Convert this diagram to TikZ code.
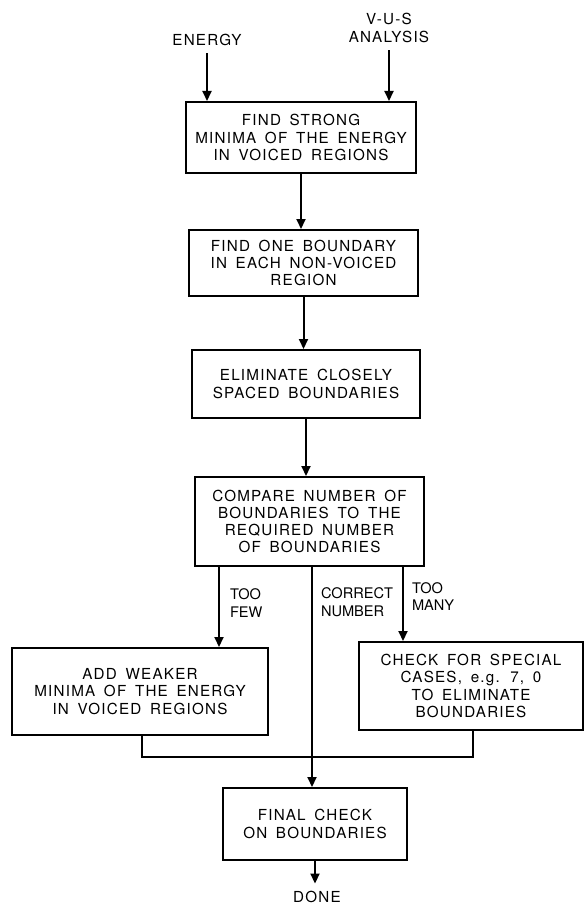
\documentclass[tikz,border=0pt]{standalone}
\usepackage{fontspec}
\setmainfont{TeX Gyre Heros}[LetterSpace=8,WordSpace=1.6]
\newfontfamily\branchfont{TeX Gyre Heros}
\usetikzlibrary{arrows.meta,positioning}
\tikzset{>={Triangle[length=5pt,width=4.5pt]}, % solid heads as in the chart
every node/.style={font=\fontsize{7.6}{8.6}\selectfont}, % lettering of the chart
box/.style={draw, rectangle, align=center, inner sep=2pt}, % one step of the procedure
lbl/.style={align=left, inner sep=1pt, font=\branchfont\fontsize{7.3}{8.8}\selectfont}, % text beside a branch
}

\begin{document}
\begin{tikzpicture}[x=0.5pt, y=-0.5pt, line width=1pt]
\useasboundingbox (0,0) rectangle (588,904);
% inputs
\node (energy) at (207,40) {ENERGY};
\node[align=center] (vus) at (389,28) {V-U-S\\ANALYSIS};
% steps
\node[box, minimum width=115pt, minimum height=35.5pt] (find) at (301,137.5)
  {FIND STRONG\\MINIMA OF THE ENERGY\\IN VOICED REGIONS};
\node[box, minimum width=114.5pt, minimum height=33pt] (one) at (303.5,263)
  {FIND ONE BOUNDARY\\IN EACH NON-VOICED\\REGION};
\node[box, minimum width=114pt, minimum height=34pt] (elim) at (306,384)
  {ELIMINATE CLOSELY\\SPACED BOUNDARIES};
\node[box, minimum width=114.5pt, minimum height=44.5pt] (comp) at (309.5,521.5)
  {COMPARE NUMBER OF\\BOUNDARIES TO THE\\REQUIRED NUMBER\\OF BOUNDARIES};
\node[box, minimum width=128pt, minimum height=43.5pt] (add) at (140,691.5)
  {ADD WEAKER\\MINIMA OF THE ENERGY\\IN VOICED REGIONS};
\node[box, minimum width=112pt, minimum height=44pt] (special) at (471,686)
  {CHECK FOR SPECIAL\\CASES, e.g. 7, 0\\TO ELIMINATE\\BOUNDARIES};
\node[box, minimum width=92pt, minimum height=36pt] (final) at (315,824)
  {FINAL CHECK\\ON BOUNDARIES};
\node (done) at (317,897) {DONE};
% branch positions
\coordinate (xfew) at (219,0);
\coordinate (xok) at (312,0);
\coordinate (xmany) at (403,0);
\coordinate (xleft) at (142,0);
\coordinate (join) at (473,757);
\path[every edge/.append style={->}] (energy) edge (energy |- find.north)
(vus) edge (vus |- find.north)
(find) edge (find |- one.north)
(one) edge (one |- elim.north)
(elim) edge (elim |- comp.north)
(comp.south -| xfew) edge node[lbl, right=4pt, pos=0.45]{TOO\\FEW} (add.north -| xfew)
(comp.south -| xok) edge node[lbl, right=3pt, pos=0.16]{CORRECT\\NUMBER} (final.north -| xok)
(comp.south -| xmany) edge node[lbl, right=3pt, pos=0.4]{TOO\\MANY} (special.north -| xmany)
(final) edge (final |- done.north);
\draw (add.south -| xleft) |- (join) -- (special.south -| join);
\end{tikzpicture}
\end{document}
